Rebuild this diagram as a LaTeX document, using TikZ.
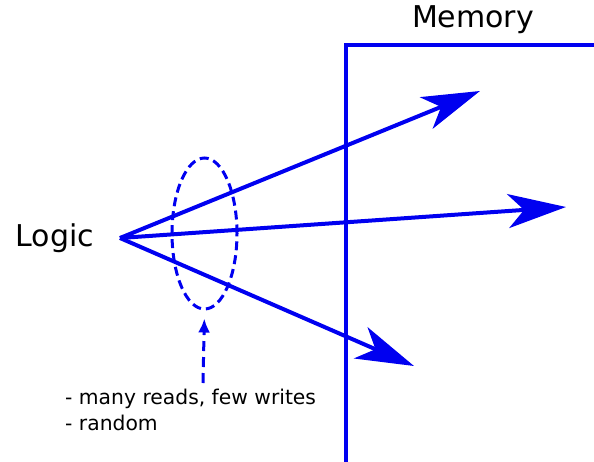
\documentclass[tikz,border=0pt]{standalone}
\usepackage{fontspec}
\setmainfont{DejaVu Sans}
\usepackage{tikz}
\usetikzlibrary{shapes,arrows.meta,positioning}
\definecolor{wireblue}{RGB}{0,0,240}

\begin{document}
\begin{tikzpicture}[
    x=1pt, y=-1pt,
    title/.style={font=\fontsize{30}{36}\selectfont, inner sep=0pt},
    note/.style={font=\fontsize{20.3}{26}\selectfont, align=left, inner sep=0pt, anchor=base west},
    wall/.style={draw=wireblue, line width=4.5pt},
    access/.style={draw=wireblue, line width=4pt, -{Stealth[length=58pt, width=34pt, inset=16pt]}},
    group/.style={ellipse, draw=wireblue, line width=3pt, dash pattern=on 9pt off 5pt, minimum width=65pt, minimum height=151pt, inner sep=0pt},
    hint/.style={draw=wireblue, line width=3pt, dash pattern=on 10pt off 6pt, -{Latex[length=14pt, width=12pt]}, shorten >=8pt}
]
\useasboundingbox (0,0) rectangle (594,461);

% Labels
\node[title] (logic) at (55,238) {Logic};
\node[title] (memory) at (473,20) {Memory};

% Memory region
\coordinate (mbot) at (346,463);
\coordinate (mtop) at (346,45);
\coordinate (mright) at (596,45);
\draw[wall] (mbot) -- (mtop) -- (mright);

% Accesses
\coordinate (src) at (120,238);
\coordinate (t1) at (480,91);
\coordinate (t2) at (566,207);
\coordinate (t3) at (414,366);
\draw[access] (src) -- (t1);
\draw[access] (src) -- (t2);
\draw[access] (src) -- (t3);

% Access pattern
\node[group] (batch) at (204.5,233.5) {};
\node[note] (notes) at (65,430) {- many reads, few writes\\- random};
\coordinate (foot) at (203,383);
\draw[hint] (foot) -- (batch.south);

\end{tikzpicture}
\end{document}
